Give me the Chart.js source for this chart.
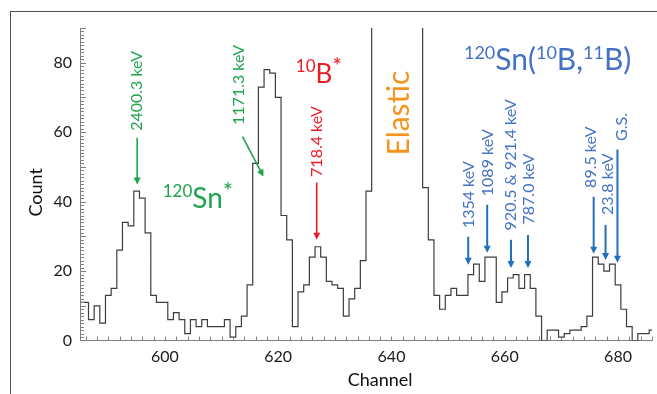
<!DOCTYPE html>
<html>
<head>
<meta charset="utf-8">
<script src="https://cdn.jsdelivr.net/npm/chart.js@4"></script>
<style>
  html, body { margin: 0; padding: 0; background: #fff; }
  #wrap { position: relative; width: 657px; height: 394px; overflow: hidden; }
  #frame { position: absolute; left: 10px; top: 11px; width: 700px; height: 420px;
           border-left: 1px solid #505050; border-top: 1px solid #505050; }
  canvas { position: absolute; left: 0; top: 0; }
</style>
</head>
<body>
<div id="wrap"><div id="frame"></div><canvas id="chart" width="657" height="394"></canvas></div>
<script>
// one bin per channel, bins centred on the channel number
const channels = [
  585, 586, 587, 588, 589, 590, 591, 592, 593, 594,
  595, 596, 597, 598, 599, 600, 601, 602, 603, 604,
  605, 606, 607, 608, 609, 610, 611, 612, 613, 614,
  615, 616, 617, 618, 619, 620, 621, 622, 623, 624,
  625, 626, 627, 628, 629, 630, 631, 632, 633, 634,
  635, 636, 637, 638, 639, 640, 641, 642, 643, 644,
  645, 646, 647, 648, 649, 650, 651, 652, 653, 654,
  655, 656, 657, 658, 659, 660, 661, 662, 663, 664,
  665, 666, 667, 668, 669, 670, 671, 672, 673, 674,
  675, 676, 677, 678, 679, 680, 681, 682, 683, 684,
  685, 686
];
// elastic peak (637-645) runs off the top of the plot
const counts = [
  11, 11, 6, 10, 5, 13, 15, 26, 34, 33,
  43, 41, 31, 13, 11, 11, 6, 8, 6, 2,
  6, 4, 6, 4, 4, 4, 6, 1, 4, 7,
  16, 51, 73, 78, 77, 70, 36, 29, 4, 14,
  16, 24, 27, 24, 17, 16, 15, 7, 12, 15,
  23, 43, 150, 150, 150, 150, 150, 150, 150, 150,
  150, 44, 29, 13, 9, 13, 15, 13, 13, 19,
  22, 17, 24, 24, 11, 14, 18, 19, 15, 19,
  15, 7, 0, 3, 3, 1, 2, 3, 3, 4,
  7, 24, 22, 20, 22, 16, 9, 4, 0, 2,
  2, 3
];
const xTickLabels = [600, 620, 640, 660, 680];
const yTickLabels = [0, 20, 40, 60, 80];

const peakLabels = ['2400.3 keV', '1171.3 keV', '718.4 keV', '1354 keV', '1089 keV',
                    '920.5 & 921.4 keV', '787.0 keV', '89.5 keV', '23.8 keV', 'G.S.'];

const FONT = 'Lato, "Open Sans", sans-serif';
const GREEN = '#1fa34d';
const RED = '#ec1c24';
const ORANGE = '#f7941d';
const BLUE = '#4472c4';
const BLUE_ARROW = '#1f6fbf';
const AXIS = '#808080';

// label centre (cx, cy) and arrow (x1,y1 -> x2,y2), all in channel / count units
const peakMarks = [
  { color: GREEN, cx: 595.1, cy: 71.9, x1: 595.1, y1: 58.4, x2: 595.1, y2: 44.9, w: 1.6 },
  { color: GREEN, cx: 613.1, cy: 73.6, x1: 613.7, y1: 58.7, x2: 617.4, y2: 47.2, w: 1.6 },
  { color: RED, cx: 626.9, cy: 57.3, x1: 626.8, y1: 45.5, x2: 626.8, y2: 29.0, w: 1.6 },
  { color: BLUE, cx: 653.6, cy: 42.0, x1: 653.55, y1: 29.9, x2: 653.55, y2: 21.8, w: 2 },
  { color: BLUE, cx: 657.0, cy: 51.2, x1: 656.9, y1: 39.1, x2: 656.9, y2: 25.3, w: 2 },
  { color: BLUE, cx: 661.0, cy: 50.6, x1: 661.1, y1: 29.0, x2: 661.1, y2: 20.9, w: 2 },
  { color: BLUE, cx: 664.3, cy: 43.6, x1: 664.1, y1: 30.4, x2: 664.1, y2: 20.9, w: 2 },
  { color: BLUE, cx: 675.2, cy: 52.8, x1: 675.7, y1: 41.4, x2: 675.7, y2: 25.0, w: 2 },
  { color: BLUE, cx: 678.2, cy: 45.0, x1: 677.8, y1: 33.3, x2: 677.8, y2: 23.2, w: 2 },
  { color: BLUE, cx: 680.6, cy: 61.5, x1: 679.9, y1: 55.0, x2: 679.9, y2: 22.4, w: 2 }
];

const histPoints = channels.map((ch, i) => ({ x: ch - 0.5, y: counts[i] }));
histPoints.push({ x: channels[channels.length - 1] + 0.5, y: counts[counts.length - 1] });

function drawArrow(ctx, x1, y1, x2, y2, color, w) {
  const ang = Math.atan2(y2 - y1, x2 - x1);
  const head = 7, half = 3.5;
  ctx.strokeStyle = color;
  ctx.fillStyle = color;
  ctx.lineWidth = w;
  ctx.beginPath();
  ctx.moveTo(x1, y1);
  ctx.lineTo(x2 - Math.cos(ang) * head * 0.8, y2 - Math.sin(ang) * head * 0.8);
  ctx.stroke();
  ctx.beginPath();
  ctx.moveTo(x2, y2);
  ctx.lineTo(x2 - Math.cos(ang) * head - Math.sin(ang) * half, y2 - Math.sin(ang) * head + Math.cos(ang) * half);
  ctx.lineTo(x2 - Math.cos(ang) * head + Math.sin(ang) * half, y2 - Math.sin(ang) * head - Math.cos(ang) * half);
  ctx.closePath();
  ctx.fill();
}

function drawRotated(ctx, text, x, y, font, color) {
  ctx.save();
  ctx.translate(x, y);
  ctx.rotate(-Math.PI / 2);
  ctx.font = font;
  ctx.fillStyle = color;
  ctx.textAlign = 'center';
  ctx.textBaseline = 'middle';
  ctx.fillText(text, 0, 0);
  ctx.restore();
}

// pieces: [text, size, raise] -> raise > 0 for superscripts
function drawSup(ctx, pieces, x, y, color) {
  ctx.fillStyle = color;
  ctx.textAlign = 'left';
  ctx.textBaseline = 'alphabetic';
  let px = x;
  for (const [t, size, raise] of pieces) {
    ctx.font = size + 'px ' + FONT;
    ctx.fillText(t, px, y - raise);
    px += ctx.measureText(t).width;
  }
}

const decorations = {
  id: 'decorations',
  afterDraw(chart) {
    const { ctx, chartArea: a, scales: { x, y } } = chart;
    ctx.save();

    // inward tick marks
    ctx.strokeStyle = AXIS;
    ctx.lineWidth = 1;
    ctx.beginPath();
    for (let c = 586; c <= 686; c += 2) {
      const px = Math.round(x.getPixelForValue(c)) + 0.5;
      ctx.moveTo(px, a.bottom);
      ctx.lineTo(px, a.bottom - 4);
    }
    for (let v = 1; v <= 90; v += 1) {
      const py = Math.round(y.getPixelForValue(v)) + 0.5;
      ctx.moveTo(a.left, py);
      ctx.lineTo(a.left + (v % 10 === 0 ? 6 : 4), py);
    }
    ctx.stroke();

    // axis titles
    drawRotated(ctx, 'Count', a.left - 44, (a.top + a.bottom) / 2 + 8, '18px ' + FONT, '#111');
    ctx.font = '18px ' + FONT;
    ctx.fillStyle = '#111';
    ctx.textAlign = 'center';
    ctx.textBaseline = 'middle';
    ctx.fillText('Channel', x.getPixelForValue(638), a.bottom + 40);

    // peak labels and arrows
    peakMarks.forEach((m, i) => {
      drawRotated(ctx, peakLabels[i], x.getPixelForValue(m.cx), y.getPixelForValue(m.cy), '16px ' + FONT, m.color);
      const arrowColor = m.color === BLUE ? BLUE_ARROW : m.color;
      drawArrow(ctx, x.getPixelForValue(m.x1), y.getPixelForValue(m.y1),
                x.getPixelForValue(m.x2), y.getPixelForValue(m.y2), arrowColor, m.w);
    });

    drawRotated(ctx, 'Elastic', x.getPixelForValue(641.3), y.getPixelForValue(65.5), '30px ' + FONT, ORANGE);

    drawSup(ctx, [['120', 17, 11], ['Sn', 28, 0], ['*', 24, 9]],
            x.getPixelForValue(599.6), y.getPixelForValue(38.2), GREEN);
    drawSup(ctx, [['10', 17, 11], ['B', 26, 0], ['*', 23, 9]],
            x.getPixelForValue(623.1), y.getPixelForValue(74.2), RED);
    drawSup(ctx, [['120', 18, 11], ['Sn(', 30, 0], ['10', 18, 11], ['B,', 30, 0], ['11', 18, 11], ['B)', 30, 0]],
            x.getPixelForValue(652.8), y.getPixelForValue(77.9), BLUE);

    ctx.restore();
  }
};

new Chart(document.getElementById('chart').getContext('2d'), {
  type: 'line',
  data: {
    datasets: [{
      data: histPoints,
      stepped: 'before',
      borderColor: '#3d3d3d',
      borderWidth: 1.2,
      pointRadius: 0,
      fill: false
    }]
  },
  options: {
    responsive: false,
    animation: false,
    layout: { padding: { left: 40, top: 28, right: 5, bottom: 0 } },
    plugins: {
      legend: { display: false },
      tooltip: { enabled: false }
    },
    scales: {
      x: {
        type: 'linear',
        min: 585,
        max: 686,
        afterBuildTicks: s => { s.ticks = xTickLabels.map(v => ({ value: v })); },
        afterFit: s => { s.height = 53.5; },
        ticks: { font: { family: FONT, size: 16 }, color: '#1a1a1a', padding: 7, maxRotation: 0, autoSkip: false },
        grid: { display: true, drawOnChartArea: false, drawTicks: false },
        border: { display: true, color: AXIS, width: 1 }
      },
      y: {
        min: 0,
        max: 90,
        afterBuildTicks: s => { s.ticks = yTickLabels.map(v => ({ value: v })); },
        afterFit: s => { s.width = 40; },
        ticks: { font: { family: FONT, size: 16 }, color: '#1a1a1a', padding: 8, autoSkip: false },
        grid: { display: true, drawOnChartArea: false, drawTicks: false },
        border: { display: true, color: AXIS, width: 1 }
      }
    }
  },
  plugins: [decorations]
});
</script>
</body>
</html>
